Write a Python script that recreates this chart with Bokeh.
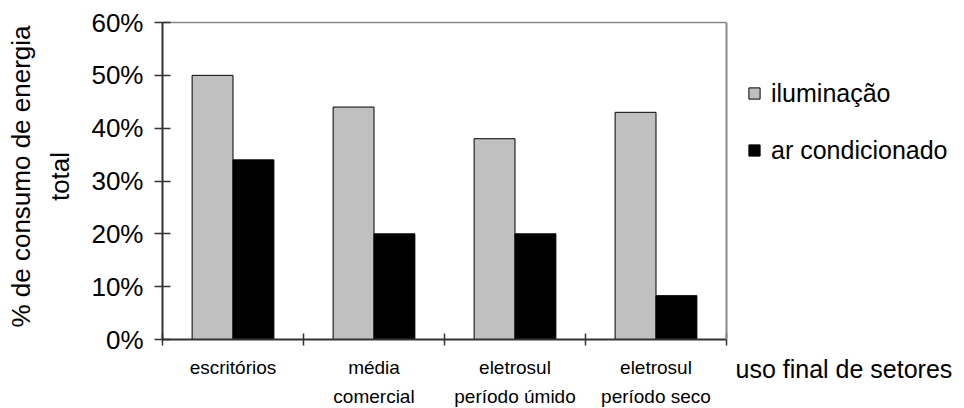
import numpy as np
from bokeh.plotting import figure
from bokeh.models import (ColumnDataSource, Range1d, FixedTicker, NumeralTickFormatter,
                          Legend, LegendItem, LinearAxis, Label)
from bokeh.transform import dodge
from bokeh.embed import file_html
from bokeh.resources import INLINE

# ---- data ----
categories = ["escritórios", "média\ncomercial", "eletrosul\nperíodo úmido", "eletrosul\nperíodo seco"]
iluminacao = [0.50, 0.44, 0.38, 0.43]
ar_condicionado = [0.34, 0.20, 0.20, 0.083]
series_names = ["iluminação", "ar condicionado"]
y_ticks = [0.0, 0.1, 0.2, 0.3, 0.4, 0.5, 0.6]
y_max = 0.6
y_title = "% de consumo de energia\ntotal"
x_title = "uso final de setores"

FONT = "Liberation Sans"
AX = "#333333"
BORDER = "#888888"

n = len(categories)
centers = list(np.arange(n) + 0.5)
boundaries = list(np.arange(n + 1).astype(float))

# layout (pixels): plot area 162..726 x 22..339 inside a 964x408 canvas.
# The frame covers the whole canvas; axes are pinned with fixed_location.
LEFT, TOP = 162, 22
AX_RIGHT, AX_BOTTOM = 726, 339
W, H = 964, 408
px_per_x = (AX_RIGHT - LEFT) / n
px_per_y = (AX_BOTTOM - TOP) / y_max
x_start, x_end = -LEFT / px_per_x, (W - LEFT) / px_per_x
y_start, y_end = -(H - AX_BOTTOM) / px_per_y, y_max + TOP / px_per_y

src = ColumnDataSource(dict(x=centers, ilum=iluminacao, ar=ar_condicionado))

p = figure(width=W, height=H, output_backend="svg", toolbar_location=None,
           x_range=Range1d(x_start, x_end), y_range=Range1d(y_start, y_end),
           x_axis_location=None, y_axis_location=None,
           min_border_left=0, min_border_right=0, min_border_top=0, min_border_bottom=0,
           background_fill_color="white", border_fill_color="white")

p.xgrid.visible = False
p.ygrid.visible = False
p.outline_line_color = None

bw = 0.29
r1 = p.vbar(x=dodge("x", -bw / 2, range=p.x_range), top="ilum", width=bw, source=src,
            fill_color="#C0C0C0", line_color="black", line_width=1)
r2 = p.vbar(x=dodge("x", bw / 2, range=p.x_range), top="ar", width=bw, source=src,
            fill_color="black", line_color="black", line_width=1)

# y axis
ya = LinearAxis(fixed_location=0, bounds=(0, y_max), ticker=FixedTicker(ticks=y_ticks),
                formatter=NumeralTickFormatter(format="0%"))
ya.major_tick_in = 8
ya.major_tick_out = 8
ya.minor_tick_line_color = None
ya.axis_line_color = AX
ya.axis_line_width = 2
ya.major_tick_line_color = AX
ya.major_tick_line_width = 1.5
ya.major_label_text_font = FONT
ya.major_label_text_font_size = "26px"
ya.major_label_text_color = "black"
ya.major_label_standoff = 11
p.add_layout(ya, "left")

# x axis (ends at the last category)
xa = LinearAxis(fixed_location=0, bounds=(0, n),
                ticker=FixedTicker(ticks=centers, minor_ticks=boundaries))
xa.major_label_overrides = {c: lab for c, lab in zip(centers, categories)}
xa.major_tick_line_color = None
xa.major_tick_in = 0
xa.major_tick_out = 6
xa.minor_tick_in = 6
xa.minor_tick_out = 6
xa.minor_tick_line_color = AX
xa.minor_tick_line_width = 1.5
xa.axis_line_color = AX
xa.axis_line_width = 2
xa.major_label_text_font = FONT
xa.major_label_text_font_size = "19px"
xa.major_label_text_color = "black"
xa.major_label_text_line_height = 1.4
xa.major_label_standoff = 11
p.add_layout(xa, "below")

# top and right borders of the plot area
top_ax = LinearAxis(fixed_location=y_max, bounds=(0, n), ticker=FixedTicker(ticks=[]),
                    axis_line_color=BORDER, axis_line_width=1.5,
                    major_tick_line_color=None, minor_tick_line_color=None,
                    major_label_text_font_size="0px")
p.add_layout(top_ax, "above")
right_ax = LinearAxis(fixed_location=n, bounds=(0, y_max), ticker=FixedTicker(ticks=[]),
                      axis_line_color=BORDER, axis_line_width=2,
                      major_tick_line_color=None, minor_tick_line_color=None,
                      major_label_text_font_size="0px")
p.add_layout(right_ax, "right")

# axis titles
p.add_layout(Label(x=n, y=0, x_offset=9, y_offset=-29, text=x_title,
                   text_font=FONT, text_font_size="25px", text_color="black",
                   text_baseline="alphabetic", text_align="left"))
p.add_layout(Label(x=40, y=H - 176, x_units="screen", y_units="screen",
                   angle=np.pi / 2, text=y_title,
                   text_font=FONT, text_font_size="26px", text_color="black",
                   text_line_height=1.3, text_align="center", text_baseline="middle"))

legend = Legend(items=[LegendItem(label=series_names[0], renderers=[r1]),
                       LegendItem(label=series_names[1], renderers=[r2])],
                location=(747, H - 165), orientation="vertical",
                glyph_width=14, glyph_height=14, label_standoff=10,
                label_height=30, spacing=27, padding=0, margin=0,
                label_text_font=FONT, label_text_font_size="25px", label_text_color="black",
                border_line_color=None, background_fill_alpha=0)
p.add_layout(legend)

open("out.html", "w").write(file_html(p, INLINE))
